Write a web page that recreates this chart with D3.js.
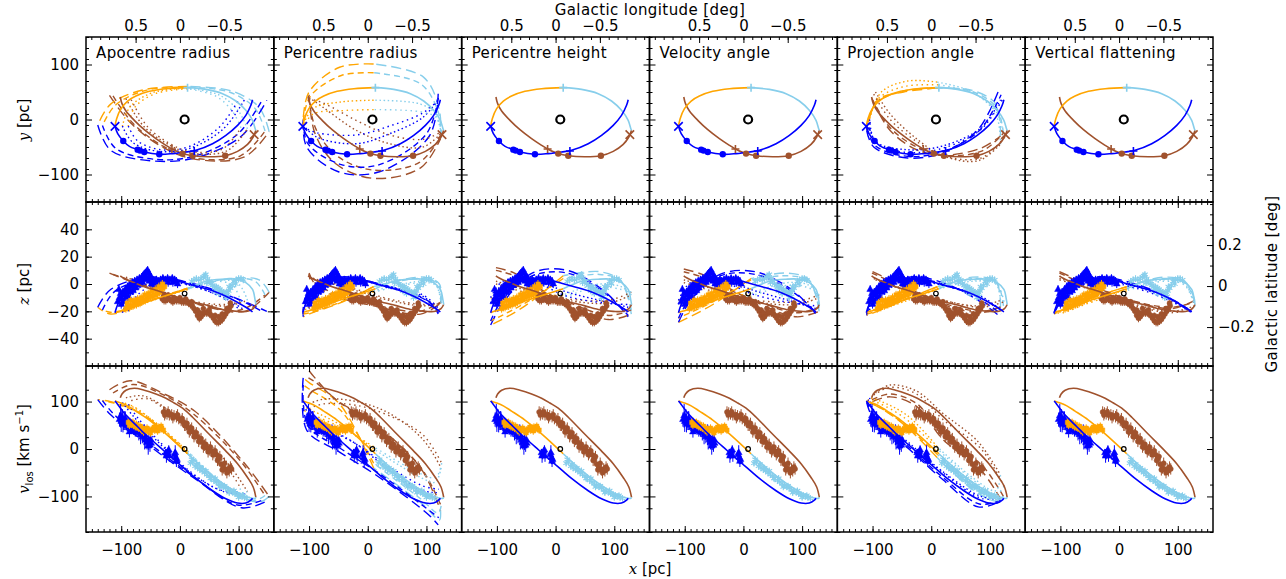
<!DOCTYPE html>
<html>
<head>
<meta charset="utf-8">
<script src="https://cdn.jsdelivr.net/npm/d3@7/dist/d3.min.js"></script>
<style>
  body { margin: 0; background: #fff; }
  svg text { font-family: "DejaVu Sans", sans-serif; fill: #000; }
</style>
</head>
<body>
<svg id="fig" width="1286" height="579"></svg>
<script>
// ---------------- values ----------------
var panelTitles = ["Apocentre radius", "Pericentre radius", "Pericentre height",
                   "Velocity angle", "Projection angle", "Vertical flattening"];

// best-fitting orbit, one list per stream: [x, y, z, vlos]
var orbitBrown = [
  [-101.6, 40.9, 6, 108], [-98.7, 28.8, 5, 116], [-91.9, 15.5, 3.5, 124], [-77.7, -1.5, 1, 128],
  [-60.7, -18.5, -2, 124], [-40.9, -34.8, -4.5, 116], [-23.8, -47, -7, 107], [-9.6, -56, -9, 97],
  [4.5, -62, -11, 86], [21.6, -65.8, -13, 67], [49.9, -67.6, -16, 31], [77.2, -65.8, -19, -3],
  [98.2, -57.9, -20, -31], [115.2, -45.2, -20, -60], [124.8, -31.8, -18, -80], [129.4, -19.7, -15, -102]
];
var orbitLightBlue = [
  [129.4, -19.7, -15, -102], [128.2, -16.7, -12, -104], [123.7, -1.5, -4, -104], [112.3, 16.7, 1, -100],
  [95.3, 33.6, 3.5, -90], [72.6, 47, 3.5, -72], [44.3, 54.8, 2, -45], [13, 57.9, -3.5, -10]
];
var orbitOrange = [
  [13, 57.9, -3.5, -10], [-23.8, 56, -8.5, 32], [-52.2, 51.2, -12.5, 61], [-75, 42.7, -16, 80],
  [-89, 33.6, -18, 91], [-100.4, 19.7, -19.5, 97], [-107.8, 1.5, -20.5, 100], [-110.6, -12.4, -21, 101]
];
var orbitBlue = [
  [-110.6, -12.4, -21, 101], [-106, -25.8, -15, 94], [-96.5, -39, -8, 78], [-86, -48.8, -3, 64],
  [-72, -54.8, 1.5, 47], [-60.7, -59, 3.5, 33], [-35.2, -63.3, 4, 5], [-12.5, -62, 3, -20],
  [10.2, -59, 0.5, -44], [27.2, -56, -1.5, -62], [55.6, -44, -5, -88], [78.3, -28.8, -9, -105],
  [98.2, -10.6, -13.5, -114], [112.3, 7.6, -17, -114], [120.9, 25.8, -19.5, -108], [123.7, 36, -20.5, -104]
];

// markers on the x-y plane
var blueCross = [-110.6, -12.4];
var brownCross = [126.5, -27.6];
var plusMarks = [[13, 57.9, "lightblue"], [24.4, -57.3, "blue"], [-13.6, -53.6, "brown"]];
var blueDots = [[-96.5, -39], [-72, -54.8], [-68, -56.5], [-60.7, -59], [-35.2, -63.3]];
var brownDots = [[4.5, -62], [21.6, -65.8], [77.2, -65.8]];
var sgrA = [8, 0, -7, 0]; // x, y, z, vlos

// parameter variations: 17-point skeletons (brown 0-5, light blue 5-8, orange 8-11, blue 11-16)
var skelX = [-101.6, -70, -25, 20, 90, 129, 112, 75, 13, -52, -96, -110.6, -90, -40, 20, 85, 123.7];

var apoX = [
  [-120, -85, -30, 25, 110, 152, 135, 88, 13, -62, -118, -140, -118, -50, 25, 105, 148],
  [-114, -80, -28, 23, 103, 145, 128, 84, 13, -58, -110, -132, -110, -46, 23, 98, 140],
  [-92, -62, -22, 18, 80, 115, 100, 68, 13, -46, -85, -98, -80, -35, 18, 75, 110],
  [-83, -56, -20, 16, 72, 104, 90, 62, 13, -42, -77, -88, -72, -32, 16, 68, 100]
];
var apoY = [
  [44, -5, -50, -72, -68, -22, 22, 52, 60, 54, 28, -10, -56, -75, -70, -30, 35],
  [43, -7, -49, -70, -66, -21, 20, 50, 59, 53, 26, -11, -52, -72, -67, -27, 35],
  [38, -12, -44, -61, -57, -17, 15, 44, 57, 49, 23, -12, -42, -58, -52, -16, 36],
  [36, -12, -42, -58, -54, -15, 14, 42, 56, 47, 22, -12, -39, -55, -49, -13, 36]
];
var apoZ = [
  [8, 2, -6, -14, -20, -6, 3, 4, -3, -14, -22, -17, -4, 5, 0, -12, -20],
  [7, 2, -6, -14, -19, -8, 2, 4, -3, -13, -21, -19, -5, 4, 0, -11, -20],
  [5, 0, -7, -13, -16, -12, 0, 3, -4, -12, -18, -21, -7, 3, -1, -10, -19],
  [4, -1, -7, -12, -15, -13, -1, 2, -4, -11, -17, -20, -8, 2, -1, -9, -18]
];
var apoV = [
  [125, 144, 118, 80, -30, -100, -112, -90, -10, 72, 100, 104, 72, 5, -62, -124, -110],
  [118, 136, 114, 74, -25, -98, -108, -85, -9, 68, 96, 102, 70, 6, -58, -118, -108],
  [108, 112, 84, 40, -28, -90, -92, -68, -5, 60, 92, 98, 70, 12, -50, -90, -94],
  [102, 106, 78, 36, -24, -84, -86, -62, -4, 56, 88, 94, 66, 12, -46, -86, -90]
];

var periX = [
  [-100, -90, -55, 10, 90, 124, 122, 95, 10, -48, -100, -110, -104, -50, 20, 105, 120],
  [-101, -88, -50, 10, 88, 125, 120, 90, 10, -45, -98, -110, -102, -45, 20, 100, 121],
  [-100, -76, -19, 37, 94, 125, 115, 90, 10, -45, -93, -110, -87, -19, 37, 94, 120],
  [-100, -76, -19, 37, 94, 126, 116, 90, 10, -45, -93, -110, -87, -19, 37, 94, 121]
];
var periY = [
  [45, -25, -80, -107, -88, -35, 17, 77, 101, 95, 50, 0, -50, -95, -95, -30, 47],
  [43, -18, -68, -92, -78, -30, 14, 65, 85, 80, 42, -4, -44, -82, -82, -26, 44],
  [40, 22, -20, -44, -50, -25, 10, 28, 35, 32, 20, -10, -32, -44, -26, 4, 36],
  [38, 30, -2, -28, -36, -22, 4, 14, 18, 16, 10, -14, -24, -28, -12, 12, 36]
];
var periZ = [
  [8, 0, -9, -16, -22, -14, 0, 5, -2, -14, -22, -24, -8, 5, 0, -13, -22],
  [7, 0, -8, -15, -20, -13, 0, 4, -2, -13, -21, -22, -7, 4, 0, -12, -21],
  [5, 2, -5, -12, -16, -14, 0, 2, -5, -11, -17, -19, -3, 3, -2, -9, -19],
  [4, 2, -4, -11, -15, -14, -1, 1, -6, -10, -16, -18, -2, 3, -3, -8, -18]
];
var periV = [
  [165, 150, 105, 55, -40, -130, -150, -118, -40, 95, 140, 150, 40, -5, -60, -140, -160],
  [150, 140, 100, 50, -35, -120, -135, -105, -30, 80, 125, 135, 50, 0, -52, -125, -145],
  [95, 105, 100, 75, 20, -40, -70, -60, 0, 50, 80, 90, 60, 10, -45, -88, -92],
  [85, 95, 92, 70, 30, -30, -60, -52, 5, 45, 72, 82, 55, 10, -38, -78, -85]
];

var heightZ = [
  [12, 8, -4, -14, -26, -22, 2, 9, 6, -16, -27, -30, -14, 8, 10, -6, -24],
  [10, 6, -5, -13, -23, -19, 2, 7, 4, -14, -24, -27, -11, 6, 8, -7, -23],
  [2, -2, -8, -12, -14, -8, -2, 0, -8, -10, -14, -14, 0, 3, -6, -13, -17],
  [0, -4, -9, -11, -12, -6, -4, -2, -10, -9, -11, -10, 2, 2, -9, -14, -15]
];
var velAngleZ = [
  [11, 7, -3, -13, -24, -20, 3, 8, 4, -15, -25, -28, -12, 7, 9, -5, -22],
  [9, 5, -4, -12, -21, -17, 2, 6, 3, -13, -22, -25, -10, 6, 7, -6, -21],
  [3, -1, -8, -13, -15, -10, -1, 1, -7, -11, -15, -15, -1, 3, -5, -13, -18],
  [1, -3, -9, -12, -13, -8, -3, -1, -9, -10, -12, -12, 1, 2, -8, -14, -16]
];

var projX = [
  [-100, -70, -25, 20, 85, 118, 110, 70, 10, -47, -92, -110, -98, -40, 20, 80, 115],
  [-101, -70, -25, 20, 87, 123, 111, 72, 11, -50, -94, -110, -95, -40, 20, 82, 119],
  [-95, -70, -25, 20, 80, 118, 110, 70, 10, -40, -85, -105, -95, -40, 20, 85, 118],
  [-98, -70, -25, 20, 85, 124, 111, 72, 12, -46, -90, -108, -92, -40, 20, 85, 121]
];
var projY = [
  [35, -20, -55, -65, -52, -30, 28, 53, 57, 50, 35, -20, -50, -70, -60, -18, 53],
  [38, -15, -50, -65, -57, -25, 22, 50, 58, 51, 30, -16, -48, -67, -58, -20, 45],
  [50, 10, -35, -66, -75, -45, 10, 50, 68, 70, 50, 0, -40, -55, -48, -15, 36],
  [46, 0, -40, -66, -70, -33, 14, 48, 63, 60, 38, -6, -44, -60, -52, -18, 36]
];
var projZ = [
  [9, 3, -6, -15, -21, -17, 2, 5, -2, -12, -20, -23, -8, 5, 1, -12, -23],
  [8, 2, -6, -14, -20, -16, 1, 4, -2, -12, -20, -22, -7, 4, 0, -11, -22],
  [3, -1, -7, -12, -16, -12, 0, 2, -4, -12, -18, -19, -4, 3, -1, -9, -19],
  [4, 0, -7, -12, -17, -13, 0, 3, -3, -12, -19, -20, -5, 4, -1, -10, -20]
];
var projV = [
  [100, 110, 90, 20, -45, -105, -110, -85, -18, 52, 90, 98, 62, 2, -65, -122, -112],
  [104, 116, 96, 28, -35, -100, -106, -80, -12, 56, 92, 100, 65, 6, -60, -116, -108],
  [118, 135, 122, 75, 15, -55, -88, -60, 5, 70, 100, 108, 72, 15, -48, -100, -104],
  [114, 130, 116, 62, 0, -78, -95, -66, -2, 66, 97, 104, 70, 12, -50, -104, -104]
];

var flatZ = [
  [9, 3, -5, -12, -18, -12, 2, 5, -2, -11, -19, -22, -6, 5, 1, -10, -21],
  [8, 2, -5, -12, -17, -13, 1, 4, -2, -11, -19, -21, -5, 5, 0, -10, -20],
  [4, 0, -7, -14, -20, -16, 0, 3, -4, -13, -20, -21, -7, 3, -1, -11, -21],
  [3, -1, -8, -15, -21, -17, -1, 2, -5, -14, -21, -21, -8, 2, -2, -12, -21]
];

// observed gas: [x, z, err] and [x, vlos, err]
var blueXZ = [
  [-106, -13, 3], [-103, -10, 3], [-101, -7, 3], [-99, -11, 3], [-97, -6, 3], [-95, -8, 3], [-93, -4, 3],
  [-91, -6, 3], [-89, -2, 3], [-87, -4, 3], [-85, 0, 3], [-83, -2, 3], [-81, 1, 3], [-79, -1, 3],
  [-77, 2, 3], [-75, 0, 3], [-73, 3, 3], [-71, 2, 3], [-69, 4, 3], [-67, 3, 3], [-65, 5, 3], [-63, 6, 3],
  [-61, 7, 3], [-59, 8, 3], [-57, 9, 3], [-55, 10, 3], [-53, 8, 3], [-51, 6, 3], [-49, 5, 3], [-46, 3, 3],
  [-43, 2, 3], [-40, 3, 3], [-37, 2, 3], [-33, 3, 3], [-29, 4, 3], [-25, 3, 3], [-21, 4, 3], [-17, 3, 3],
  [-13, 4, 3], [-9, 3, 3], [-6, 2, 3],
  [-104, -4, 3], [-100, -15, 3], [-96, -13, 3], [-92, -10, 3], [-88, -9, 3], [-84, -6, 3], [-80, -5, 3],
  [-76, -3, 3], [-72, -1, 3], [-68, 0, 3], [-64, 1, 3], [-60, 3, 3], [-56, 4, 3], [-52, 2, 3], [-48, 0, 3],
  [-44, -1, 3], [-38, 0, 3], [-30, 1, 3], [-20, 1, 3], [-12, 1, 3], [-4, 0, 3]
];
var orangeXZ = [
  [-92, -18, 3], [-89, -17, 3], [-86, -17, 3], [-83, -16, 3], [-80, -16, 3], [-77, -15, 3], [-74, -15, 3],
  [-71, -14, 3], [-68, -14, 3], [-65, -13, 3], [-62, -12, 3], [-59, -12, 3], [-56, -11, 3], [-53, -10, 3],
  [-50, -9, 3], [-47, -9, 3], [-44, -8, 3], [-41, -8, 3], [-38, -7, 3], [-35, -6, 3], [-32, -5, 3],
  [-29, -3, 3], [-26, -2, 3],
  [-90, -14, 3], [-84, -12, 3], [-78, -12, 3], [-72, -11, 3], [-66, -10, 3], [-60, -8, 3], [-54, -7, 3],
  [-48, -5, 3], [-42, -4, 3], [-36, -2, 3], [-30, 0, 3]
];
var lightblueXZ = [
  [20, 2, 2], [24, 3, 2], [28, 4, 2], [32, 3, 2], [36, 4, 2], [40, 5, 2], [44, 7, 2], [47, 4, 2],
  [50, 2, 2], [53, 0, 2], [56, -1, 2], [59, -2, 2], [62, -2, 2], [65, -3, 2], [68, -4, 2], [71, -5, 2],
  [74, -6, 2], [77, -7, 2], [80, -6, 2], [83, -5, 2], [86, -3, 2], [89, -1, 2], [92, 2, 2], [96, 3, 2],
  [100, 4, 2], [104, 4, 2], [108, 3, 2],
  [42, 6, 2], [46, 1, 2], [60, -5, 2], [66, -7, 2], [78, -10, 2], [82, -9, 2], [84, -2, 2], [95, 0, 2]
];
var brownXZ = [
  [-30, -11, 3], [-27, -12, 3], [-24, -12, 3], [-21, -11, 3], [-18, -11, 3], [-15, -12, 3], [-12, -13, 3],
  [-9, -12, 3], [-6, -12, 3], [-3, -12, 3], [0, -12, 3], [3, -13, 3], [6, -13, 3], [9, -13, 3],
  [12, -13, 3], [15, -14, 3], [18, -15, 3], [21, -16, 3], [24, -18, 3], [27, -20, 3], [30, -23, 3],
  [33, -25, 3], [36, -24, 3], [39, -22, 3], [42, -21, 3], [45, -21, 3], [48, -21, 3], [51, -22, 3],
  [54, -23, 3], [57, -25, 3], [60, -27, 3], [63, -28, 3], [66, -28, 3], [69, -27, 3], [72, -26, 3],
  [75, -24, 3], [78, -22, 3], [81, -20, 3], [84, -18, 3], [87, -16, 3],
  [-28, -8, 2], [-20, -8, 2], [-10, -10, 2], [0, -10, 2], [10, -11, 2], [20, -13, 2], [30, -19, 2],
  [34, -21, 2], [40, -18, 2], [50, -19, 2], [60, -23, 2], [66, -24, 2], [72, -22, 2], [80, -18, 2], [86, -14, 2]
];

var blueXV = [
  [-103, 62, 15], [-100, 58, 22], [-98, 66, 18], [-96, 52, 12], [-94, 60, 20], [-91, 50, 10], [-88, 45, 12],
  [-85, 42, 10], [-82, 44, 8], [-79, 40, 10], [-76, 38, 12], [-73, 36, 10], [-70, 34, 16], [-67, 30, 20],
  [-64, 26, 14], [-61, 30, 22], [-58, 20, 18], [-56, 14, 15], [-53, 18, 20], [-51, 8, 14], [-49, 12, 10],
  [-24, -8, 8], [-22, -12, 10], [-20, -5, 8], [-18, -15, 12], [-9, -12, 10], [-7, -18, 14], [-5, -22, 10],
  [-101, 70, 25], [-97, 55, 20], [-93, 64, 15], [-86, 36, 12], [-60, 24, 25], [-54, 6, 18], [-50, 20, 12],
  [-23, -15, 14], [-19, -2, 10], [-8, -8, 16], [-6, -26, 12]
];
var orangeXV = [
  [-88, 56, 8], [-85, 58, 8], [-82, 52, 8], [-79, 50, 8], [-76, 47, 8], [-73, 46, 8], [-70, 44, 8],
  [-67, 42, 8], [-64, 44, 8], [-61, 41, 8], [-58, 40, 8], [-55, 38, 8], [-52, 39, 8], [-49, 40, 8],
  [-46, 42, 8], [-43, 40, 8], [-40, 44, 8], [-37, 46, 8], [-34, 42, 8], [-31, 44, 8], [-28, 40, 8],
  [-86, 50, 8], [-80, 56, 8], [-74, 52, 8], [-68, 48, 8], [-62, 36, 8], [-56, 44, 8], [-50, 34, 8],
  [-44, 46, 8], [-38, 38, 8], [-32, 48, 8]
];
var lightblueXV = [
  [18, -30, 6], [22, -28, 6], [26, -36, 6], [30, -40, 6], [34, -43, 6], [38, -46, 6], [42, -50, 6],
  [46, -54, 6], [50, -57, 6], [54, -62, 6], [58, -66, 6], [62, -70, 6], [66, -73, 6], [70, -76, 6],
  [74, -80, 6], [78, -82, 6], [82, -86, 6], [86, -88, 6], [90, -91, 6], [94, -94, 6], [98, -96, 6],
  [102, -98, 6], [106, -100, 6], [110, -102, 6],
  [20, -22, 5], [28, -32, 5], [36, -40, 5], [44, -46, 5], [52, -62, 5], [60, -62, 5], [68, -80, 5],
  [76, -78, 5], [84, -92, 5], [92, -88, 5], [100, -102, 5], [108, -98, 5], [114, -104, 5]
];
var brownXV = [
  [-28, 78, 12], [-25, 76, 12], [-22, 74, 12], [-18, 72, 12], [-14, 72, 12], [-10, 70, 12], [-6, 68, 12],
  [-2, 64, 12], [2, 60, 12], [6, 56, 12], [10, 50, 12], [14, 46, 12], [18, 40, 12], [22, 36, 12],
  [26, 30, 12], [30, 26, 12], [34, 20, 12], [38, 14, 12], [42, 8, 12], [46, 2, 12], [50, -2, 12],
  [54, -5, 12], [58, -8, 12], [62, -12, 12], [66, -20, 12], [70, -32, 12], [74, -40, 12], [78, -44, 12],
  [82, -42, 12], [86, -38, 12],
  [-26, 72, 12], [-20, 78, 12], [-12, 66, 12], [-4, 72, 12], [4, 64, 12], [8, 50, 12], [12, 54, 12],
  [16, 36, 12], [20, 44, 12], [24, 26, 12], [28, 34, 12], [32, 16, 12], [36, 22, 12], [40, 4, 12],
  [44, 10, 12], [48, -6, 12], [52, 4, 12], [56, -12, 12], [60, -4, 12], [64, -24, 12], [68, -16, 12],
  [72, -44, 12], [76, -30, 12], [80, -50, 12], [84, -46, 12], [88, -42, 12]
];

// axis ranges and ticks
var xDomain = [-160, 160];
var rowDomains = [[-150, 150], [-60, 60], [-175, 175]];
var lonDomain = [1.06, -1.06];
var latDomain = [0.41, -0.39];
var xMajor = [-100, 0, 100];
var rowMajor = [[-100, 0, 100], [-40, -20, 0, 20, 40], [-100, 0, 100]];
var rowMinorStep = [20, 10, 50];
var lonMajor = [0.5, 0, -0.5];
var latMajor = [0.2, 0, -0.2];

// ---------------- layout and styles ----------------
var colors = { brown: "#a0522d", lightblue: "#87ceeb", orange: "#ffa500", blue: "#0000ff" };
var segments = [["brown", 0, 5], ["lightblue", 5, 8], ["orange", 8, 11], ["blue", 11, 16]];
var orbits = { brown: orbitBrown, lightblue: orbitLightBlue, orange: orbitOrange, blue: orbitBlue };
var variantDash = ["10,5", "6,4", "1.5,2.6", "1.5,3.6"];
var variantSets = [
  { x: apoX, y: apoY, z: apoZ, v: apoV },
  { x: periX, y: periY, z: periZ, v: periV },
  { z: heightZ },
  { z: velAngleZ },
  { x: projX, y: projY, z: projZ, v: projV },
  { z: flatZ }
];
var obsXZ = [["blue", blueXZ], ["lightblue", lightblueXZ], ["brown", brownXZ], ["orange", orangeXZ]];
var obsXV = [["blue", blueXV], ["lightblue", lightblueXV], ["brown", brownXV], ["orange", orangeXV]];
var obsSymbol = { blue: d3.symbolTriangle, orange: d3.symbolSquare, lightblue: d3.symbolAsterisk, brown: d3.symbolCircle };
var obsSize = { blue: 20, orange: 18, lightblue: 30, brown: 20 };

var left = 86, right = 1213;
var rowEdges = [37, 202, 366, 532];
var pw = (right - left) / 6;

var svg = d3.select("#fig");
var defs = svg.append("defs");

function addAxis(g, axisFn, scale, values, len, pad, labelled, tx, ty) {
  var a = axisFn(scale).tickValues(values).tickSize(-len).tickPadding(pad)
    .tickFormat(labelled ? d3.format("") : function() { return ""; });
  var ag = g.append("g").attr("transform", "translate(" + tx + "," + ty + ")").call(a);
  ag.select(".domain").remove();
  ag.attr("font-family", null).attr("font-size", 15);
  ag.selectAll("line").attr("stroke", "#000").attr("stroke-width", 1);
  return ag;
}

function drawPanel(c, r) {
  var x0 = left + c * pw, x1 = x0 + pw, y0 = rowEdges[r], y1 = rowEdges[r + 1];
  var xs = d3.scaleLinear().domain(xDomain).range([x0, x1]);
  var ys = d3.scaleLinear().domain(rowDomains[r]).range([y1, y0]);
  var line = d3.line().x(function(d) { return xs(d[0]); }).y(function(d) { return ys(d[1]); })
    .curve(d3.curveCatmullRom.alpha(0.5));

  var clipId = "clip" + c + "_" + r;
  defs.append("clipPath").attr("id", clipId).append("rect")
    .attr("x", x0).attr("y", y0).attr("width", pw).attr("height", y1 - y0);
  var g = svg.append("g");
  var inner = g.append("g").attr("clip-path", "url(#" + clipId + ")");

  // parameter variations
  var key = ["y", "z", "v"][r];
  var vs = variantSets[c];
  if (vs[key]) {
    vs[key].forEach(function(vals, i) {
      var xv = vs.x ? vs.x[i] : skelX;
      segments.forEach(function(s) {
        var pts = d3.range(s[1], s[2] + 1).map(function(j) { return [xv[j], vals[j]]; });
        inner.append("path").attr("d", line(pts)).attr("fill", "none")
          .attr("stroke", colors[s[0]]).attr("stroke-width", 1.4)
          .attr("stroke-dasharray", variantDash[i]);
      });
    });
  }

  // observed gas
  if (r > 0) {
    (r === 1 ? obsXZ : obsXV).forEach(function(o) {
      var col = colors[o[0]];
      var sym = d3.symbol().type(obsSymbol[o[0]]).size(obsSize[o[0]]);
      var og = inner.append("g");
      og.selectAll("line").data(o[1]).enter().append("line")
        .attr("x1", function(d) { return xs(d[0]); }).attr("x2", function(d) { return xs(d[0]); })
        .attr("y1", function(d) { return ys(d[1] - d[2]); }).attr("y2", function(d) { return ys(d[1] + d[2]); })
        .attr("stroke", col).attr("stroke-width", 1);
      og.selectAll("path").data(o[1]).enter().append("path")
        .attr("transform", function(d) { return "translate(" + xs(d[0]) + "," + ys(d[1]) + ")"; })
        .attr("d", sym)
        .attr("fill", o[0] === "lightblue" ? "none" : col)
        .attr("stroke", col).attr("stroke-width", o[0] === "lightblue" ? 1.1 : 0.5);
    });
  }

  // best-fitting orbit
  segments.forEach(function(s) {
    var pts = orbits[s[0]].map(function(p) { return [p[0], p[r + 1]]; });
    inner.append("path").attr("d", line(pts)).attr("fill", "none")
      .attr("stroke", colors[s[0]]).attr("stroke-width", 1.6);
  });

  if (r === 0) {
    [[blueDots, "blue"], [brownDots, "brown"]].forEach(function(d) {
      inner.selectAll(null).data(d[0]).enter().append("circle")
        .attr("cx", function(p) { return xs(p[0]); }).attr("cy", function(p) { return ys(p[1]); })
        .attr("r", 3.2).attr("fill", colors[d[1]]);
    });
    [[blueCross, "blue"], [brownCross, "brown"]].forEach(function(d) {
      inner.append("path")
        .attr("transform", "translate(" + xs(d[0][0]) + "," + ys(d[0][1]) + ") rotate(45)")
        .attr("d", "M-6,0H6M0,-6V6")
        .attr("stroke", colors[d[1]]).attr("stroke-width", 1.6);
    });
    plusMarks.forEach(function(m) {
      inner.append("path")
        .attr("transform", "translate(" + xs(m[0]) + "," + ys(m[1]) + ")")
        .attr("d", "M-4,0H4M0,-4V4")
        .attr("stroke", colors[m[2]]).attr("stroke-width", 1.6);
    });
  }

  // Sgr A*
  inner.append("circle").attr("cx", xs(sgrA[0])).attr("cy", ys(sgrA[r + 1]))
    .attr("r", r === 0 ? 4 : 2.3).attr("fill", "none").attr("stroke", "#000")
    .attr("stroke-width", r === 0 ? 2.2 : 1.2);

  // frame and ticks (IDL style: inward on all four sides)
  g.append("rect").attr("x", x0).attr("y", y0).attr("width", pw).attr("height", y1 - y0)
    .attr("fill", "none").attr("stroke", "#000").attr("stroke-width", 1.5);

  var xMinor = d3.range(-150, 151, 10);
  var yMinor = d3.range(rowDomains[r][0], rowDomains[r][1] + 0.1, rowMinorStep[r]);

  addAxis(g, d3.axisBottom, xs, xMinor, 3, 0, false, 0, y1);
  addAxis(g, d3.axisBottom, xs, xMajor, 6, 12, r === 2, 0, y1);
  if (r === 0) {
    var lon = d3.scaleLinear().domain(lonDomain).range([x0, x1]);
    addAxis(g, d3.axisTop, lon, d3.range(-1.0, 1.01, 0.1), 3, 0, false, 0, y0);
    addAxis(g, d3.axisTop, lon, lonMajor, 6, 6, true, 0, y0);
  } else {
    addAxis(g, d3.axisTop, xs, xMinor, 3, 0, false, 0, y0);
    addAxis(g, d3.axisTop, xs, xMajor, 6, 0, false, 0, y0);
  }
  addAxis(g, d3.axisLeft, ys, yMinor, 3, 0, false, x0, 0);
  addAxis(g, d3.axisLeft, ys, rowMajor[r], 6, 7, c === 0, x0, 0);
  if (c === 5 && r === 1) {
    var lat = d3.scaleLinear().domain(latDomain).range([y0, y1]);
    addAxis(g, d3.axisRight, lat, d3.range(-0.35, 0.41, 0.05), 3, 0, false, x1, 0);
    addAxis(g, d3.axisRight, lat, latMajor, 6, 5, true, x1, 0);
  } else {
    addAxis(g, d3.axisRight, ys, yMinor, 3, 0, false, x1, 0);
    addAxis(g, d3.axisRight, ys, rowMajor[r], 6, 0, false, x1, 0);
  }

  if (r === 0) {
    g.append("text").attr("x", x0 + 10).attr("y", y0 + 21).attr("font-size", 15)
      .attr("letter-spacing", 0.4).text(panelTitles[c]);
  }
}

for (var c = 0; c < 6; c++) {
  for (var r = 0; r < 3; r++) drawPanel(c, r);
}

// axis titles
svg.append("text").attr("x", 650).attr("y", 15).attr("text-anchor", "middle")
  .attr("font-size", 15).attr("letter-spacing", 0.4).text("Galactic longitude [deg]");

var xt = svg.append("text").attr("x", 650).attr("y", 574).attr("text-anchor", "middle").attr("font-size", 15);
xt.append("tspan").attr("font-family", "DejaVu Serif").attr("font-style", "italic").text("x");
xt.append("tspan").text(" [pc]");

svg.append("text").attr("transform", "translate(1277,284) rotate(-90)").attr("text-anchor", "middle")
  .attr("font-size", 15).attr("letter-spacing", 0.4).text("Galactic latitude [deg]");

function leftTitle(ycen, sym) {
  var t = svg.append("text").attr("transform", "translate(29," + ycen + ") rotate(-90)")
    .attr("text-anchor", "middle").attr("font-size", 15);
  t.append("tspan").attr("font-family", "DejaVu Serif").attr("font-style", "italic").text(sym);
  return t;
}
leftTitle(120, "y").append("tspan").text(" [pc]");
leftTitle(284, "z").append("tspan").text(" [pc]");
var vt = leftTitle(449, "v");
vt.append("tspan").attr("font-size", 10).attr("dy", 4).text("los");
vt.append("tspan").attr("dy", -4).text(" [km s");
vt.append("tspan").attr("font-size", 10).attr("dy", -6).text("−1");
vt.append("tspan").attr("dy", 6).text("]");
</script>
</body>
</html>
